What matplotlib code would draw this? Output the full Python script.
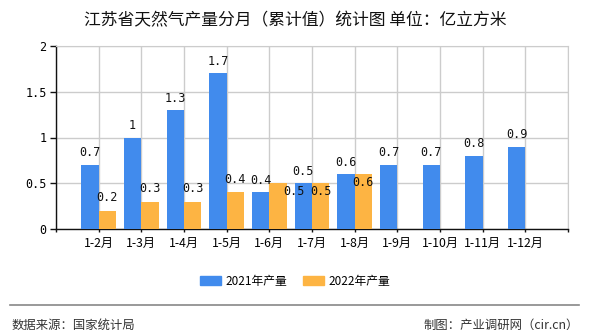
import matplotlib
matplotlib.use("Agg")
import matplotlib.pyplot as plt
from matplotlib.lines import Line2D
import matplotlib.transforms as mtransforms

plt.rcParams['font.family'] = ['Noto Sans CJK SC', 'DejaVu Sans']

categories = ['1-2月', '1-3月', '1-4月', '1-5月', '1-6月', '1-7月',
              '1-8月', '1-9月', '1-10月', '1-11月', '1-12月']
output_2021 = [0.7, 1.0, 1.3, 1.7, 0.4, 0.5, 0.6, 0.7, 0.7, 0.8, 0.9]
output_2022 = [0.2, 0.3, 0.3, 0.4, 0.5, 0.5, 0.6]
label_2021 = ['0.7', '1', '1.3', '1.7', '0.4', '0.5', '0.6', '0.7', '0.7', '0.8', '0.9']
label_2022 = ['0.2', '0.3', '0.3', '0.4', '0.5', '0.5', '0.6']
yticks = [0, 0.5, 1, 1.5, 2]
ytick_labels = ['0', '0.5', '1', '1.5', '2']

BLUE = '#418bed'
ORANGE = '#fdb443'
GRID = '#cccccc'

# pixel offsets for the 2022 value labels (dx, dy)
offsets_2022 = [(0, 13), (0, 13), (0, 13), (0, 13), (16, -8), (0, -8), (0, -8)]

fig = plt.figure(figsize=(5.9, 3.3), dpi=100)
ax = fig.add_axes([56 / 590, 101 / 330, 512 / 590, 183 / 330])

pos = list(range(1, len(categories) + 1))
w = 0.41
ax.bar([p - w / 2 for p in pos], output_2021, width=w, color=BLUE, zorder=3)
pos22 = pos[:len(output_2022)]
ax.bar([p + w / 2 for p in pos22], output_2022, width=w, color=ORANGE, zorder=3)

mono = 'DejaVu Sans Mono'
for p, v, t in zip(pos, output_2021, label_2021):
    tr = mtransforms.offset_copy(ax.transData, fig=fig, x=0, y=12, units='dots')
    ax.text(p - w / 2, v, t, transform=tr, ha='center', va='center',
            fontsize=8.5, family=mono, color='#111111', zorder=5)
for p, v, t, (dx, dy) in zip(pos22, output_2022, label_2022, offsets_2022):
    tr = mtransforms.offset_copy(ax.transData, fig=fig, x=dx, y=dy, units='dots')
    ax.text(p + w / 2, v, t, transform=tr, ha='center', va='center',
            fontsize=8.5, family=mono, color='#111111', zorder=5)

ax.set_xlim(0, 12)
ax.set_ylim(0, 2)
ax.set_xticks(range(0, 13))
ax.set_xticklabels([''] + categories + [''], fontsize=8.8)
ax.set_yticks(yticks)
ax.set_yticklabels(ytick_labels, fontsize=8.5, family=mono)
ax.tick_params(axis='x', length=2.5, width=1, color='#111111', pad=3)
ax.tick_params(axis='y', length=4.3, width=1, color='#111111', pad=2.5)

ax.grid(True, color=GRID, linewidth=1, zorder=0)
for s in ['top', 'right']:
    ax.spines[s].set_color(GRID)
for s in ['left', 'bottom']:
    ax.spines[s].set_color('#111111')
    ax.spines[s].set_linewidth(1)

fig.text(0.5, 1 - 21 / 330, '江苏省天然气产量分月（累计值）统计图 单位：亿立方米',
         ha='center', va='center', fontsize=12.1, color='#111111')

handles = [plt.Rectangle((0, 0), 1, 1, color=BLUE),
           plt.Rectangle((0, 0), 1, 1, color=ORANGE)]
fig.legend(handles, ['2021年产量', '2022年产量'], loc='center',
           bbox_to_anchor=(295 / 590, 1 - 281 / 330), ncol=2, frameon=False,
           fontsize=8.5, handlelength=1.8, handleheight=0.75,
           handletextpad=0.4, columnspacing=1.3)

fig.add_artist(Line2D([10 / 590, 579 / 590], [1 - 305 / 330, 1 - 305 / 330],
                      color='#888888', linewidth=1.2))
fig.text(12 / 590, 1 - 325 / 330, '数据来源：国家统计局', ha='left', va='center',
         fontsize=8.9, color='#333333')
fig.text(579 / 590, 1 - 325 / 330, '制图：产业调研网（cir.cn）', ha='right', va='center',
         fontsize=8.9, color='#333333')

fig.savefig('out.png', dpi=100)
